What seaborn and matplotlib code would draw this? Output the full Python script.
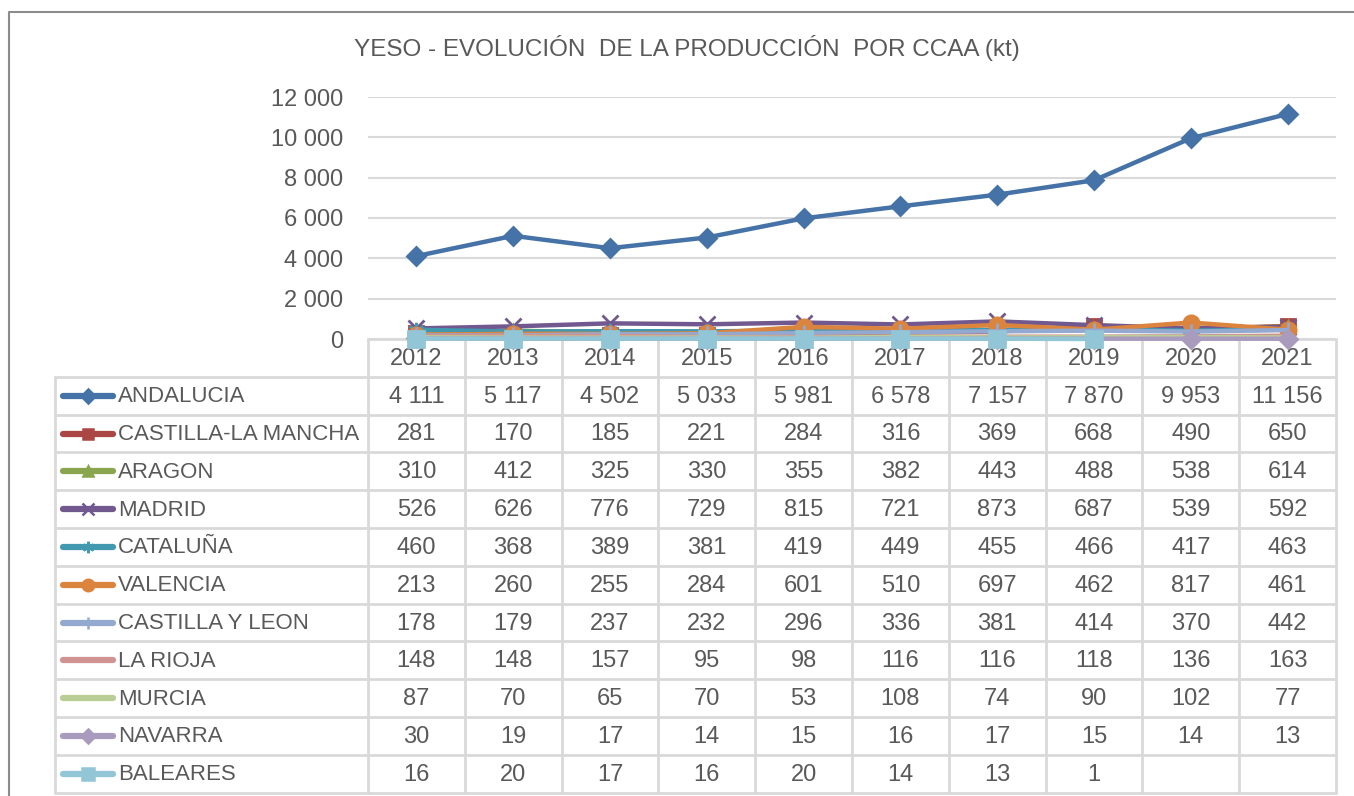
import numpy as np
import pandas as pd
import matplotlib
matplotlib.use("Agg")
import matplotlib.pyplot as plt
import seaborn as sns
from matplotlib.ticker import FuncFormatter

# Data
years = [2012, 2013, 2014, 2015, 2016, 2017, 2018, 2019, 2020, 2021]
regions = ["ANDALUCIA", "CASTILLA-LA MANCHA", "ARAGON", "MADRID", "CATALUÑA",
           "VALENCIA", "CASTILLA Y LEON", "LA RIOJA", "MURCIA", "NAVARRA", "BALEARES"]
andalucia = [4111, 5117, 4502, 5033, 5981, 6578, 7157, 7870, 9953, 11156]
castilla_la_mancha = [281, 170, 185, 221, 284, 316, 369, 668, 490, 650]
aragon = [310, 412, 325, 330, 355, 382, 443, 488, 538, 614]
madrid = [526, 626, 776, 729, 815, 721, 873, 687, 539, 592]
cataluna = [460, 368, 389, 381, 419, 449, 455, 466, 417, 463]
valencia = [213, 260, 255, 284, 601, 510, 697, 462, 817, 461]
castilla_y_leon = [178, 179, 237, 232, 296, 336, 381, 414, 370, 442]
la_rioja = [148, 148, 157, 95, 98, 116, 116, 118, 136, 163]
murcia = [87, 70, 65, 70, 53, 108, 74, 90, 102, 77]
navarra = [30, 19, 17, 14, 15, 16, 17, 15, 14, 13]
baleares = [16, 20, 17, 16, 20, 14, 13, 1, np.nan, np.nan]
yticks = [0, 2000, 4000, 6000, 8000, 10000, 12000]

series = [andalucia, castilla_la_mancha, aragon, madrid, cataluna, valencia,
          castilla_y_leon, la_rioja, murcia, navarra, baleares]
wide = pd.DataFrame(dict(zip(regions, series)), index=years)
wide.index.name = "year"
df = wide.reset_index().melt(id_vars="year", var_name="region", value_name="kt")

colors = ["#4572a7", "#aa4643", "#89a54e", "#71588f", "#4198af", "#db843d",
          "#93a9cf", "#d19392", "#b9cd96", "#a99bbd", "#92c5d6"]
markers = ["D", "s", "^", "x", (6, 2, 0), "o", "|", None, None, "D", "s"]
msizes = [9, 10, 9, 11, 11, 11, 12, 0, 0, 9, 11]

sns.set_theme(style="white")
plt.rcParams["font.family"] = ["Liberation Sans", "DejaVu Sans"]
txt = "#595959"
grid_c = "#d9d9d9"
fs = 17

W, H = 1354, 796
fig = plt.figure(figsize=(W / 100, H / 100), dpi=100)

# pixel-space axes for frame, title and data table
tab = fig.add_axes([0, 0, 1, 1])
tab.set_xlim(0, W)
tab.set_ylim(H, 0)
tab.axis("off")

tab.plot([9, 9, W + 5], [H + 5, 12, 12], color="#8c8c8c", lw=1.5)
tab.text(687, 48, "YESO - EVOLUCIÓN  DE LA PRODUCCIÓN  POR CCAA (kt)",
         ha="center", va="center", fontsize=17.5, color=txt)

x0, x1 = 368, 1336
left = 55
top, row_h = 339, 37.8
col_w = (x1 - x0) / len(years)
n_rows = len(regions)
bottom = top + row_h * (n_rows + 1)

# grid of the table
tab.plot([x0, x1], [top, top], color=grid_c, lw=2, zorder=1)
for i in range(1, n_rows + 2):
    y = top + row_h * i
    tab.plot([left, x1], [y, y], color=grid_c, lw=2, zorder=1)
tab.plot([left, left], [top + row_h, bottom], color=grid_c, lw=2, zorder=1)
for j in range(len(years) + 1):
    x = x0 + col_w * j
    tab.plot([x, x], [top, bottom], color=grid_c, lw=2, zorder=1)

def fmt(v):
    if pd.isna(v):
        return ""
    return f"{int(v):,}".replace(",", " ")

for j, yr in enumerate(years):
    tab.text(x0 + col_w * (j + 0.5), top + row_h * 0.5 + 1, str(yr),
             ha="center", va="center", fontsize=fs, color=txt)

for i, reg in enumerate(regions):
    yc = top + row_h * (i + 1.5)
    tab.plot([63, 113], [yc, yc], color=colors[i], lw=4.5, solid_capstyle="round")
    if markers[i] is not None:
        tab.plot([88], [yc], marker=markers[i], color=colors[i],
                 markersize=msizes[i] * 0.75, mew=1.8, mec=colors[i])
    tab.text(118, yc + 1, reg, ha="left", va="center", fontsize=16, color=txt)
    for j, yr in enumerate(years):
        tab.text(x0 + col_w * (j + 0.5), yc + 1, fmt(wide.loc[yr, reg]),
                 ha="center", va="center", fontsize=fs, color=txt)

# line chart
ax = fig.add_axes([x0 / W, 1 - top / H, (x1 - x0) / W, (top - 97) / H])
ax.patch.set_alpha(0)
for i, reg in enumerate(regions):
    sub = df[df["region"] == reg]
    kws = dict(color=colors[i], linewidth=3.2, clip_on=False)
    if markers[i] is not None:
        kws.update(marker=markers[i], markersize=msizes[i], mew=2, mec=colors[i])
    sns.lineplot(data=sub, x="year", y="kt", ax=ax, legend=False, **kws)

ax.set_xlim(years[0] - 0.5, years[-1] + 0.5)
ax.set_ylim(yticks[0], yticks[-1])
ax.set_yticks(yticks)
ax.yaxis.set_major_formatter(FuncFormatter(lambda v, p: fmt(v)))
ax.set_xticks([])
ax.tick_params(axis="y", length=0, pad=18, labelsize=fs, labelcolor=txt)
ax.grid(axis="y", color=grid_c, lw=1.5)
ax.set_axisbelow(True)
for s in ax.spines.values():
    s.set_visible(False)
ax.set_xlabel("")
ax.set_ylabel("")

fig.savefig("out.png", dpi=100)
